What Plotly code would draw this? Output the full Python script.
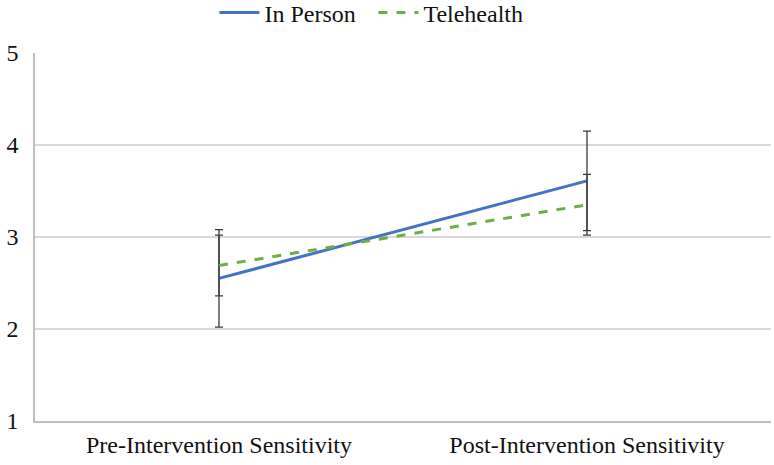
import plotly.graph_objects as go

categories = ["Pre-Intervention Sensitivity", "Post-Intervention Sensitivity"]
in_person = [2.55, 3.61]
in_person_err = [0.53, 0.54]
telehealth = [2.69, 3.35]
telehealth_err = [0.33, 0.33]
y_ticks = [1, 2, 3, 4, 5]

font_family = "Liberation Serif, Times New Roman, serif"

fig = go.Figure()
fig.add_trace(go.Scatter(
    x=categories, y=in_person, name="In Person", mode="lines",
    line=dict(color="#4472C4", width=3),
    error_y=dict(type="data", array=in_person_err, visible=True,
                 color="#3a3a3a", thickness=1.3, width=4),
))
fig.add_trace(go.Scatter(
    x=categories, y=telehealth, name="Telehealth", mode="lines",
    line=dict(color="#70AD47", width=3, dash="dash"),
    error_y=dict(type="data", array=telehealth_err, visible=True,
                 color="#3a3a3a", thickness=1.3, width=4),
))

fig.update_layout(
    width=774, height=465,
    margin=dict(l=35, r=3, t=53, b=44, autoexpand=False),
    paper_bgcolor="white", plot_bgcolor="white",
    font=dict(family=font_family, size=24, color="#111111"),
    showlegend=True,
    legend=dict(orientation="h", xref="container", x=0.277, xanchor="left",
                yref="container", y=0.972, yanchor="middle",
                font=dict(size=24), itemwidth=40, traceorder="normal",
                entrywidth=104, entrywidthmode="pixels"),
    xaxis=dict(
        type="category", range=[-0.5, 1.5],
        showgrid=False, showline=True, linecolor="#bfbfbf", linewidth=1.5,
        ticks="", tickfont=dict(size=24), ticklabelstandoff=1,
    ),
    yaxis=dict(
        range=[1, 5], tickvals=y_ticks, showgrid=True, gridcolor="#d9d9d9",
        gridwidth=1.5, showline=True, linecolor="#bfbfbf", linewidth=1.5,
        zeroline=False, ticks="", tickfont=dict(size=24), ticklabelstandoff=10,
    ),
)

fig.write_html("out.html")
